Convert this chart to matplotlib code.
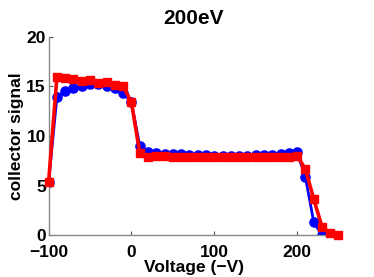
import matplotlib
matplotlib.use("Agg")
import matplotlib.pyplot as plt

volts_blue = [-100, -90, -80, -70, -60, -50, -40, -30, -20, -10, 0, 10, 20, 30, 40, 50,
              60, 70, 80, 90, 100, 110, 120, 130, 140, 150, 160, 170, 180, 190, 200,
              210, 220, 230]
signal_blue = [5.4, 13.9, 14.5, 14.8, 15.0, 15.2, 15.2, 15.0, 14.8, 14.3, 13.4, 9.0, 8.4,
               8.3, 8.2, 8.2, 8.2, 8.1, 8.1, 8.1, 8.0, 8.0, 8.0, 8.0, 8.0, 8.1, 8.1, 8.1,
               8.2, 8.3, 8.4, 5.9, 1.4, 0.0]

volts_red = [-100, -90, -80, -70, -60, -50, -40, -30, -20, -10, 0, 10, 20, 30, 40, 50,
             60, 70, 80, 90, 100, 110, 120, 130, 140, 150, 160, 170, 180, 190, 200,
             210, 220, 230, 240, 250]
signal_red = [5.4, 15.9, 15.8, 15.7, 15.5, 15.6, 15.3, 15.4, 15.1, 15.0, 13.4, 8.3, 7.9,
              8.0, 8.0, 7.9, 7.9, 7.9, 7.9, 7.9, 7.9, 7.9, 7.9, 7.9, 7.9, 7.9, 7.9, 7.9,
              7.9, 7.9, 8.0, 6.7, 3.7, 0.9, 0.2, 0.0]

xticks = [-100, 0, 100, 200]
yticks = [0, 5, 10, 15, 20]

plt.rcParams['font.family'] = ['Liberation Sans', 'DejaVu Sans']
plt.rcParams['font.weight'] = 'bold'

fig = plt.figure(figsize=(3.74, 2.77), dpi=100)
ax = fig.add_axes([0.13, 0.15, 0.775, 0.718])

ax.plot(volts_blue, signal_blue, color='blue', lw=2.0, marker='o', ms=6.6,
        mfc='blue', mec='blue', zorder=2)
ax.plot(volts_red, signal_red, color='red', lw=2.6, marker='s', ms=5.8,
        mfc='red', mec='red', zorder=3, clip_on=False)

ax.set_xlim(-100, 250)
ax.set_ylim(0, 20)
ax.set_xticks(xticks)
ax.set_yticks(yticks)
ax.set_xticklabels(['\u2212100', '0', '100', '200'])

for s in ['top', 'right']:
    ax.spines[s].set_visible(False)
for s in ['left', 'bottom']:
    ax.spines[s].set_color('#888888')
    ax.spines[s].set_linewidth(1.0)

ax.tick_params(direction='in', length=3, width=0.8, color='#555555',
               labelsize=12.5)
ax.tick_params(axis='x', pad=7)
ax.tick_params(axis='y', pad=2)
for lab in ax.get_xticklabels() + ax.get_yticklabels():
    lab.set_fontweight('bold')

ax.set_xlabel('Voltage (\u2212V)', fontsize=12.5, fontweight='bold', labelpad=0)
ax.set_ylabel('collector signal', fontsize=12.5, fontweight='bold', labelpad=2)
ax.set_title('200eV', fontsize=15, fontweight='bold', pad=9)

fig.savefig('out.png', dpi=100)
